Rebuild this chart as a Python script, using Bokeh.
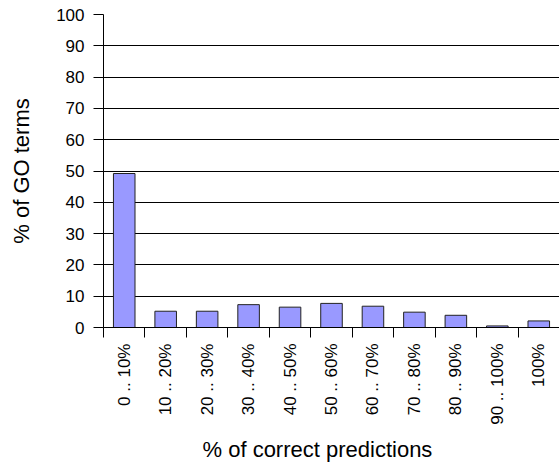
import math
from bokeh.plotting import figure
from bokeh.models import (Range1d, LinearAxis, FixedTicker, ColumnDataSource, Title)
from bokeh.embed import file_html
from bokeh.resources import INLINE

categories = ["0 .. 10%", "10 .. 20%", "20 .. 30%", "30 .. 40%", "40 .. 50%",
              "50 .. 60%", "60 .. 70%", "70 .. 80%", "80 .. 90%", "90 .. 100%", "100%"]
go_terms_pct = [49.2, 5.2, 5.2, 7.3, 6.5, 7.7, 6.8, 4.9, 3.9, 0.5, 2.1]
y_ticks = [0, 10, 20, 30, 40, 50, 60, 70, 80, 90, 100]

FONT = "Liberation Sans"

n = len(categories)
centers = [i + 0.5 for i in range(n)]
edges = list(range(n + 1))

source = ColumnDataSource(data=dict(x=centers, cat=categories, val=go_terms_pct))

p = figure(width=559, height=473, x_range=Range1d(0, n),
           y_range=Range1d(0, 100), output_backend="svg", toolbar_location=None,
           x_axis_location=None, min_border_left=103, min_border_right=0,
           min_border_top=14, min_border_bottom=146)
p.outline_line_color = None
p.background_fill_color = "white"
p.border_fill_color = "white"

p.vbar(x="x", top="val", width=0.52, source=source,
       fill_color="#9999FF", line_color="#222222", line_width=1)

# y axis
yax = p.yaxis[0]
yax.ticker = FixedTicker(ticks=y_ticks)
yax.major_tick_out = 10
yax.major_tick_in = 0
yax.minor_tick_line_color = None
yax.axis_line_color = "black"
yax.major_tick_line_color = "black"
yax.major_label_text_font = FONT
yax.major_label_text_font_size = "17px"
yax.major_label_text_color = "black"
yax.major_label_standoff = 9
yax.axis_label = "% of GO terms"
yax.axis_label_text_font = FONT
yax.axis_label_text_font_size = "22px"
yax.axis_label_text_font_style = "normal"
yax.axis_label_text_color = "black"
yax.axis_label_standoff = 19

p.ygrid.ticker = FixedTicker(ticks=y_ticks)
p.ygrid.grid_line_color = "black"
p.ygrid.grid_line_width = 1
p.xgrid.visible = False

# boundary ticks on x axis (no labels)
edge_axis = LinearAxis(ticker=FixedTicker(ticks=edges),
                       major_label_overrides={e: "" for e in edges},
                       major_label_standoff=0,
                       major_tick_out=10, major_tick_in=0,
                       minor_tick_line_color=None,
                       axis_line_color="black", major_tick_line_color="black")
p.add_layout(edge_axis, "below")

# category labels at bar centres
cat_axis = LinearAxis(ticker=FixedTicker(ticks=centers),
                      major_label_overrides={c: lab for c, lab in zip(centers, categories)},
                      major_label_orientation=math.pi / 2,
                      major_tick_line_color=None, major_tick_out=0, major_tick_in=0,
                      minor_tick_line_color=None,
                      axis_line_color=None,
                      major_label_standoff=6,
                      major_label_text_font=FONT,
                      major_label_text_font_size="17px",
                      major_label_text_color="black")
p.add_layout(cat_axis, "below")

x_title = Title(text="% of correct predictions", align="left", offset=99,
                standoff=14, text_font=FONT, text_font_size="22px",
                text_font_style="normal", text_color="black")
p.add_layout(x_title, "below")

open("out.html", "w").write(file_html(p, INLINE))
